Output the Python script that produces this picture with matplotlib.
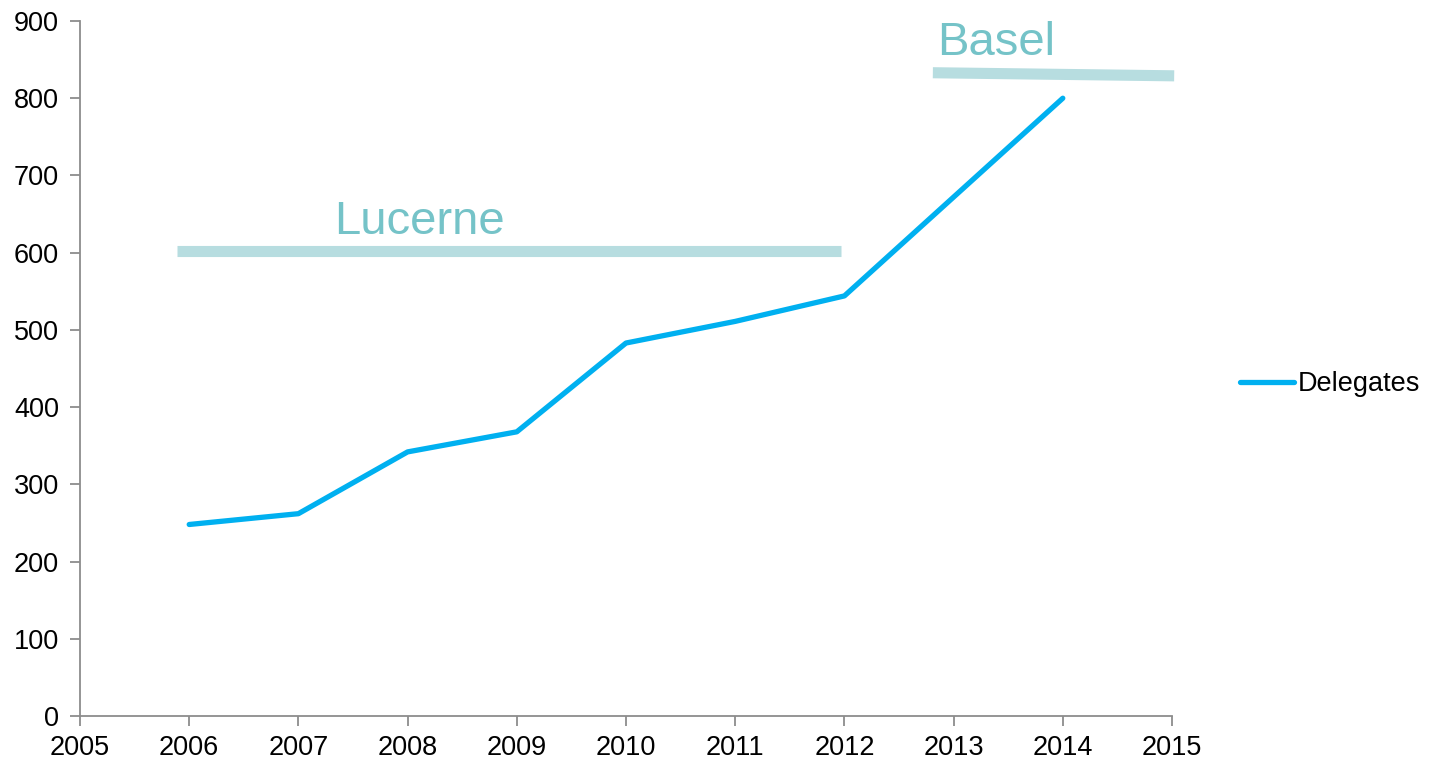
import matplotlib
matplotlib.use("Agg")
import matplotlib.pyplot as plt

years = [2006, 2007, 2008, 2009, 2010, 2011, 2012, 2013, 2014]
delegates = [248, 262, 342, 368, 483, 511, 544, 672, 800]
series_name = "Delegates"
xticks = list(range(2005, 2016))
yticks = list(range(0, 901, 100))

lucerne_x = [2005.89, 2011.97]
lucerne_y = [602, 602]
basel_x = [2012.81, 2015.02]
basel_y = [833, 829]

plt.rcParams['font.family'] = ['Liberation Sans', 'DejaVu Sans']

fig = plt.figure(figsize=(14.3, 7.64), dpi=100)
ax = fig.add_axes([80/1430, 48/764, (1172-80)/1430, (716-21)/764])

ax.plot(lucerne_x, lucerne_y, color='#b7dde0', lw=8, solid_capstyle='butt', zorder=1)
ax.plot(basel_x, basel_y, color='#b7dde0', lw=8, solid_capstyle='butt', zorder=1, clip_on=False)
ax.text(2007.33, 624, "Lucerne", fontsize=34, color='#75c3c8', ha='left', va='baseline')
ax.text(2012.85, 856, "Basel", fontsize=34, color='#75c3c8', ha='left', va='baseline')

ax.plot(years, delegates, color='#00b0f0', lw=3.8, solid_capstyle='round',
        solid_joinstyle='round', label=series_name, zorder=3)

ax.set_xlim(2005, 2015)
ax.set_ylim(0, 900)
ax.set_xticks(xticks)
ax.set_yticks(yticks)
ax.tick_params(labelsize=19.5, colors='#8c8c8c', labelcolor='black', length=7, width=1.3, direction='out')
ax.tick_params(axis='x', pad=7)
ax.tick_params(axis='y', pad=8)
for s in ['top', 'right']:
    ax.spines[s].set_visible(False)
for s in ['left', 'bottom']:
    ax.spines[s].set_color('#8c8c8c')
    ax.spines[s].set_linewidth(1.3)

leg = fig.legend(loc='center left', bbox_to_anchor=(1240/1430, 1 - 384/764), frameon=False,
                 fontsize=19.5, handlelength=2.0, handletextpad=0.15, borderaxespad=0,
                 borderpad=0)

fig.savefig("out.png", dpi=100)
